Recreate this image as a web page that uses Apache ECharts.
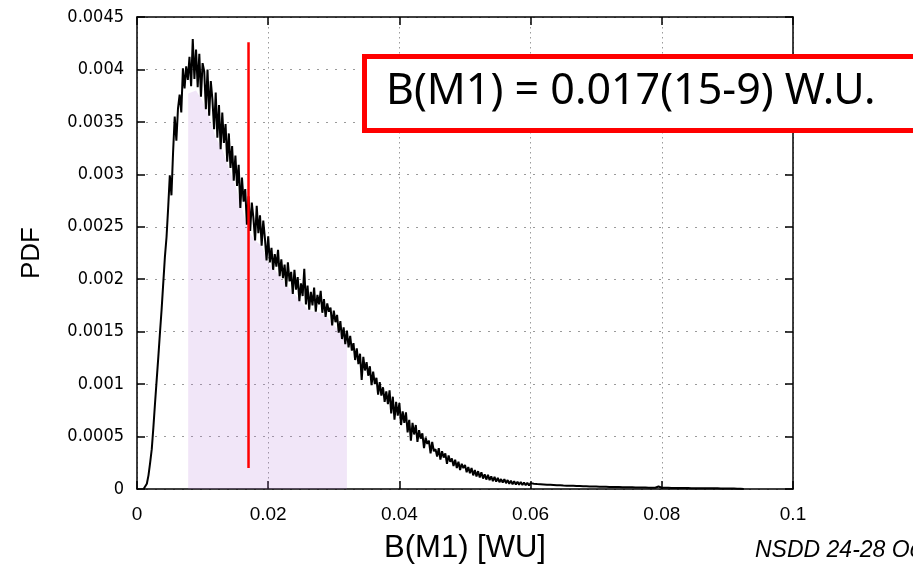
<!DOCTYPE html>
<html>
<head>
<meta charset="utf-8">
<script src="https://cdn.jsdelivr.net/npm/echarts@6/dist/echarts.min.js"></script>
<style>
html,body{margin:0;padding:0;background:#fff;}
#chart{width:913px;height:572px;}
</style>
</head>
<body>
<div id="chart"></div>
<script>
// ---- data ----
// histogram bins: first bin at binStart, spacing binWidth (B(M1) in W.U.)
const binStart = 0.00100;
const binWidth = 0.00025;
// PDF values in units of 1e-4
const pdfValues = [
  0, 0.1, 0.5, 1.3, 2.5, 3.8, 5.9, 8.2, 10.4, 12.6,
  14.9, 17.1, 19.6, 22.1, 24.0, 26.8, 29.9, 28.0, 32.1, 35.5,
  33.2, 36.3, 37.6, 35.9, 40.1, 38.2, 40.3, 39.0, 41.2, 38.4,
  42.9, 39.1, 41.9, 38.3, 41.5, 37.4, 40.6, 39.8, 36.2, 40.0,
  35.6, 38.9, 37.1, 34.3, 37.8, 33.5, 36.6, 32.4, 35.9, 33.0,
  34.8, 31.2, 33.9, 30.6, 32.7, 29.4, 31.8, 28.9, 30.9, 26.8,
  29.7, 27.4, 28.6, 25.2, 27.9, 24.6, 27.3, 25.8, 23.7, 27.0,
  24.4, 26.1, 23.2, 25.6, 23.9, 21.8, 24.1, 21.6, 23.0, 20.9,
  22.4, 21.2, 22.8, 20.3, 21.9, 20.1, 21.4, 19.3, 21.6, 19.8,
  20.7, 18.6, 20.9, 19.0, 20.2, 17.9, 19.6, 18.4, 21.0, 17.6,
  19.4, 17.1, 18.8, 17.5, 19.2, 16.9, 18.5, 17.6, 18.9, 16.8,
  18.1, 16.4, 17.7, 16.9, 17.3, 15.6, 17.0, 15.9, 16.6, 14.9,
  16.0, 14.3, 15.4, 13.8, 15.1, 13.5, 14.6, 13.2, 13.9, 12.3,
  13.4, 11.9, 12.9, 10.4, 12.6, 11.3, 12.1, 10.8, 11.7, 9.9,
  11.2, 10.0, 10.6, 9.0, 10.2, 8.9, 9.7, 8.3, 9.3, 8.1,
  9.4, 7.2, 8.8, 6.6, 8.3, 7.0, 8.2, 6.1, 7.4, 6.3,
  7.3, 5.4, 6.6, 4.6, 6.3, 5.2, 6.1, 4.5, 5.6, 4.8,
  5.3, 3.9, 4.9, 4.3, 4.6, 3.4, 4.5, 3.6, 3.8, 3.1,
  3.9, 2.8, 3.6, 3.0, 3.4, 2.4, 3.2, 2.6, 2.9, 2.2,
  2.8, 2.0, 2.6, 1.8, 2.4, 2.0, 2.3, 1.6, 2.1, 1.5,
  2.0, 1.3, 1.8, 1.2, 1.7, 1.1, 1.6, 1.0, 1.4, 0.9,
  1.35, 0.85, 1.2, 0.75, 1.15, 0.7, 1.05, 0.65, 0.95, 0.6,
  0.95, 0.55, 0.85, 0.5, 0.8, 0.45, 0.75, 0.42, 0.7, 0.4,
  0.68, 0.38, 0.62, 0.36, 0.6, 0.33, 0.56,
  0.4, 0.5, 0.38, 0.47, 0.36, 0.45, 0.34, 0.43, 0.33, 0.41, 0.31, 0.4, 0.3, 0.38, 0.29, 0.36, 0.28, 0.35, 0.27,
  0.33, 0.26, 0.32, 0.25, 0.31, 0.24, 0.3, 0.23, 0.29, 0.22, 0.28, 0.21, 0.27, 0.21, 0.26, 0.2, 0.25, 0.19, 0.24, 0.19,
  0.23, 0.18, 0.22, 0.17, 0.22, 0.16, 0.21, 0.16, 0.2, 0.15, 0.19, 0.15, 0.19, 0.14, 0.18, 0.14, 0.17, 0.13, 0.17, 0.13,
  0.16, 0.12, 0.16, 0.12, 0.15, 0.11, 0.15, 0.11, 0.14, 0.11, 0.14, 0.1, 0.13, 0.1, 0.13, 0.1, 0.12, 0.09, 0.24, 0.09,
  0.12, 0.09, 0.11, 0.08, 0.11, 0.08, 0.1, 0.08, 0.1, 0.07, 0.1, 0.07, 0.09, 0.07, 0.09, 0.06, 0.09, 0.06, 0.08, 0.06,
  0.08, 0.05, 0.08, 0.05, 0.07, 0.05, 0.07, 0.05, 0.07, 0.04, 0.06, 0.04, 0.06, 0.04, 0.06, 0.04, 0.05, 0.03, 0.05, 0.03,
  0.05, 0.03, 0.04, 0.03, 0.04, 0.02, 0.03, 0.02, 0.02, 0.01, 0.01
];
// shaded interval (lower envelope of the PDF inside the band), y in 1e-4
const shadeX = [0.0078, 0.009, 0.010, 0.011, 0.012, 0.013, 0.014, 0.015, 0.016, 0.017,
                0.018, 0.019, 0.020, 0.021, 0.022, 0.023, 0.024, 0.025, 0.026, 0.027,
                0.028, 0.029, 0.030, 0.031, 0.032];
const shadeY = [37.7, 38, 37, 35.5, 33.5, 32.4, 30.6, 28.9, 26.8, 24.6,
                23.7, 23.2, 21.6, 20.9, 20.1, 19.3, 18.6, 17.9, 17.1, 16.9,
                16.8, 16.4, 15.6, 14.9, 13.8];
// central value marker
const markerX = [0.017, 0.017];
const markerY = [0.0002, 0.00426];
const xTicks = {min: 0, max: 0.1, step: 0.02};
const yTicks = {min: 0, max: 0.0045, step: 0.0005};
const annotation = 'B(M1) = 0.017(15-9) W.U.';
const xTitle = 'B(M1) [WU]';
const yTitle = 'PDF';
const footer = 'NSDD 24-28 Oct';

// ---- build ----
const UNIT = 1e-4;
const pdfData = pdfValues.map((v, i) => [+(binStart + i * binWidth).toFixed(5), v * UNIT]);
const shadeData = shadeX.map((x, i) => [x, shadeY[i] * UNIT]);
const markerData = markerX.map((x, i) => [x, markerY[i]]);

const chart = echarts.init(document.getElementById('chart'), null, {renderer: 'canvas'});
const gridDash = {color: '#9a9a9a', width: 1};
const option = {
  backgroundColor: '#fff',
  animation: false,
  grid: {left: 137, right: 120, top: 17, bottom: 83, containLabel: false},
  xAxis: [{
    type: 'value', min: xTicks.min, max: xTicks.max, interval: xTicks.step,
    name: xTitle, nameLocation: 'middle', nameGap: 44,
    nameTextStyle: {fontFamily: 'Liberation Sans', fontSize: 31, color: '#000'},
    axisLine: {show: true, onZero: false, lineStyle: {color: '#000', width: 1.5}},
    axisTick: {show: true, inside: true, length: 8, lineStyle: {color: '#000', width: 1.5}},
    axisLabel: {margin: 16, fontFamily: 'Liberation Sans', fontSize: 19, color: '#000',
      formatter: v => String(+v.toFixed(4))},
    splitLine: {show: true, lineStyle: Object.assign({type: [1.5, 3.5]}, gridDash)}
  }, {
    type: 'value', position: 'top', min: xTicks.min, max: xTicks.max, interval: xTicks.step,
    axisLine: {show: true, onZero: false, lineStyle: {color: '#000', width: 1.5}},
    axisTick: {show: true, inside: true, length: 8, lineStyle: {color: '#000', width: 1.5}},
    axisLabel: {show: false}, splitLine: {show: false}
  }],
  yAxis: [{
    type: 'value', min: yTicks.min, max: yTicks.max, interval: yTicks.step,
    name: yTitle, nameLocation: 'middle', nameGap: 92, nameRotate: 90,
    nameTextStyle: {fontFamily: 'Liberation Sans', fontSize: 26, color: '#000'},
    axisLine: {show: true, onZero: false, lineStyle: {color: '#000', width: 1.5}},
    axisTick: {show: true, inside: true, length: 8, lineStyle: {color: '#000', width: 1.5}},
    axisLabel: {margin: 13, fontFamily: "'DejaVu Sans Condensed', 'DejaVu Sans'", fontSize: 18, color: '#000',
      formatter: v => String(+v.toFixed(5))},
    splitLine: {show: true, lineStyle: Object.assign({type: [2, 7]}, gridDash)}
  }, {
    type: 'value', position: 'right', min: yTicks.min, max: yTicks.max, interval: yTicks.step,
    axisLine: {show: true, onZero: false, lineStyle: {color: '#000', width: 1.5}},
    axisTick: {show: true, inside: true, length: 8, lineStyle: {color: '#000', width: 1.5}},
    axisLabel: {show: false}, splitLine: {show: false}
  }],
  series: [{
    name: 'shade', type: 'line', data: shadeData, symbol: 'none', z: 1,
    lineStyle: {width: 0, opacity: 0},
    areaStyle: {color: 'rgba(185,130,220,0.28)', origin: 'start'}
  }, {
    name: 'pdf', type: 'line', data: pdfData, symbol: 'none', z: 3,
    lineStyle: {color: '#000', width: 2}
  }, {
    name: 'marker', type: 'line', data: markerData, symbol: 'none', z: 4,
    lineStyle: {color: '#ff0000', width: 2.5}
  }],
  graphic: [{
    type: 'rect', left: 362, top: 54, z: 10,
    shape: {width: 600, height: 74},
    style: {fill: '#fff', stroke: '#ff0000', lineWidth: 5}
  }, {
    type: 'text', left: 386, top: 70, z: 11,
    style: {text: annotation, fill: '#000', font: '43px "Noto Sans"'}
  }, {
    type: 'text', left: 755, top: 539, z: 11,
    style: {text: footer, fill: '#000', font: 'italic 23px "Liberation Sans"'}
  }]
};
chart.setOption(option);
</script>
</body>
</html>
